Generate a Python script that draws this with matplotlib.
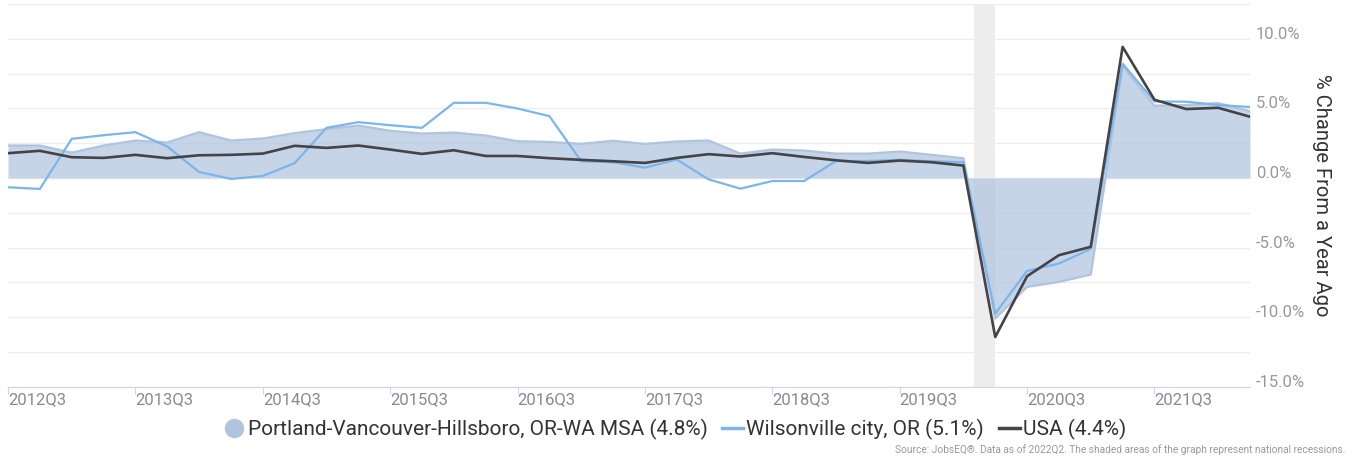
import matplotlib
matplotlib.use("Agg")
import matplotlib.pyplot as plt
from matplotlib.lines import Line2D
import matplotlib.transforms as mtransforms
import numpy as np

plt.rcParams['font.family'] = ['Roboto', 'DejaVu Sans']

quarters = [f"{y}Q{q}" for y in range(2012, 2023) for q in range(1, 5)]
quarters = quarters[quarters.index("2012Q3"):quarters.index("2022Q2") + 1]

msa = [2.33, 2.33, 1.82, 2.33, 2.69, 2.55, 3.29, 2.69, 2.83, 3.22,
       3.51, 3.77, 3.39, 3.19, 3.26, 3.05, 2.64, 2.59, 2.45, 2.67,
       2.45, 2.62, 2.69, 1.75, 2.04, 1.97, 1.75, 1.75, 1.90, 1.66,
       1.42, -10.1, -7.83, -7.47, -6.94, 8.05, 5.19, 5.24, 5.38, 4.8]
wilsonville = [-0.67, -0.79, 2.81, 3.07, 3.29, 2.26, 0.43, -0.07, 0.14, 1.06,
               3.60, 4.01, 3.79, 3.60, 5.40, 5.40, 4.99, 4.44, 1.20, 1.13,
               0.74, 1.32, -0.10, -0.77, -0.22, -0.22, 1.22, 1.22, 1.30, 1.20,
               1.13, -9.75, -6.68, -6.15, -5.10, 8.21, 5.50, 5.48, 5.24, 5.1]
usa = [1.78, 1.95, 1.49, 1.44, 1.66, 1.42, 1.63, 1.66, 1.75, 2.31,
       2.16, 2.33, 2.04, 1.73, 1.99, 1.58, 1.58, 1.42, 1.30, 1.20,
       1.08, 1.44, 1.71, 1.54, 1.78, 1.51, 1.27, 1.08, 1.25, 1.13,
       0.89, -11.43, -7.06, -5.55, -4.95, 9.42, 5.62, 4.95, 5.04, 4.4]
recession = (30.33, 31.0)  # in quarter index units (Feb 2020 - Apr 2020)

labels = ["Portland-Vancouver-Hillsboro, OR-WA MSA (4.8%)",
          "Wilsonville city, OR (5.1%)", "USA (4.4%)"]
ytick_vals = [-15, -10, -5, 0, 5, 10]

W, H = 1348, 458
fig = plt.figure(figsize=(W / 100, H / 100), dpi=100)
ax = fig.add_axes([8 / W, 1 - 386.7 / H, (1250 - 8) / W, (386.7 - 4) / H])

x = np.arange(len(quarters))

ax.axvspan(recession[0], recession[1], color='#ededed', zorder=0, lw=0)
ax.fill_between(x, msa, 0, color='#b0c4de', alpha=0.72, lw=0, zorder=2)
ax.plot(x, msa, color='#b0c4de', lw=1.6, zorder=2.5)
ax.plot(x, wilsonville, color='#7cb5ec', lw=1.6, zorder=3)
ax.plot(x, usa, color='#434348', lw=1.9, zorder=4)

ax.set_xlim(0, len(quarters) - 1)
ax.set_ylim(-15, 12.5)

for s in ['top', 'right', 'left']:
    ax.spines[s].set_visible(False)
ax.spines['bottom'].set_color('#ccd6eb')

# grid
ax.set_yticks(np.arange(-15, 12.51, 2.5))
ax.yaxis.grid(True, color='#eeeeee', lw=1)
ax.set_axisbelow(True)
ax.tick_params(axis='y', length=0, labelleft=False, labelright=False)

tr = mtransforms.blended_transform_factory(ax.transAxes, ax.transData)
for v in ytick_vals:
    ax.text(1.0 + 6 / (1250 - 8), v, f"{v:.1f}%", transform=tr, ha='left',
            va='baseline', fontsize=12, color='#999999')

xt = np.arange(0, len(quarters), 4)
ax.set_xticks(xt)
ax.set_xticklabels([quarters[i] for i in xt])
ax.tick_params(axis='x', length=5, color='#ccd6eb', pad=-1, labelsize=12,
               labelcolor='#8a8a8a')
for lab in ax.get_xticklabels():
    lab.set_horizontalalignment('left')

fig.text(1322 / W, 1 - 195 / H, "% Change From a Year Ago", rotation=270,
         ha='center', va='center', fontsize=14.5, color='#333333')

handles = [Line2D([], [], marker='o', ls='none', markersize=13,
                  markerfacecolor='#b0c4de', markeredgecolor='#b0c4de'),
           Line2D([], [], color='#7cb5ec', lw=2.5),
           Line2D([], [], color='#434348', lw=2.5)]
leg = fig.legend(handles, labels, ncol=3, loc='center',
                 bbox_to_anchor=(675 / W, 1 - 429 / H), frameon=False,
                 fontsize=15, handlelength=1.0, handletextpad=0.15,
                 columnspacing=0.7, labelcolor='#333333',
                 borderpad=0, borderaxespad=0)

fig.text(1345 / W, 1 - 450 / H,
         "Source: JobsEQ®. Data as of 2022Q2. The shaded areas of the graph represent national recessions.",
         ha='right', va='center', fontsize=7.3, color='#999999')

fig.savefig("out.png", dpi=100)
